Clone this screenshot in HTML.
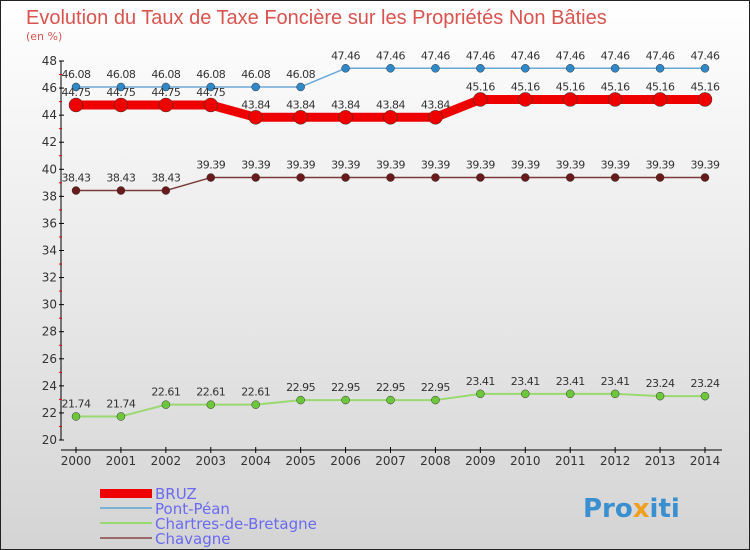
<!DOCTYPE html>
<html><head><meta charset="utf-8"><style>
body{margin:0;}
#wrap{width:750px;height:550px;position:relative;overflow:hidden;background:linear-gradient(#ffffff,#d4d4d4);font-family:"DejaVu Sans","Liberation Sans",sans-serif;}
svg{position:absolute;left:0;top:0;}
</style></head><body>
<div id="wrap">
<svg id="chart" width="750" height="550">
<rect x="0.5" y="0.5" width="749" height="549" fill="none" stroke="#222" stroke-width="1"/>
<text x="26" y="24" font-size="20" fill="#d9534f" font-family="Liberation Sans, sans-serif">Evolution du Taux de Taxe Foncière sur les Propriétés Non Bâties</text>
<text x="26" y="40" font-size="11" fill="#d9534f">(en %)</text>
<g id="axes"></g><g id="series"></g>
<g>
<rect x="100" y="489" width="52" height="9" fill="#e00"/>
<text x="155" y="499" font-size="15" fill="#6a6af0">BRUZ</text>
<line x1="100" y1="508" x2="152" y2="508" stroke="#7ab0d0" stroke-width="2"/>
<text x="155" y="514" font-size="15" fill="#6a6af0">Pont-Péan</text>
<line x1="100" y1="523" x2="152" y2="523" stroke="#9ad870" stroke-width="2"/>
<text x="155" y="529" font-size="15" fill="#6a6af0">Chartres-de-Bretagne</text>
<line x1="100" y1="538" x2="152" y2="538" stroke="#9a6a6a" stroke-width="2"/>
<text x="155" y="544" font-size="15" fill="#6a6af0">Chavagne</text>
</g>
<text x="583" y="517" font-size="26" font-weight="bold" fill="#3a8fd0">Pro<tspan fill="#f0a020">x</tspan>iti</text>
</svg>
</div>
<script>
const years=[2000,2001,2002,2003,2004,2005,2006,2007,2008,2009,2010,2011,2012,2013,2014];
const yTicks=[20,22,24,26,28,30,32,34,36,38,40,42,44,46,48];
const bruz=[44.75,44.75,44.75,44.75,43.84,43.84,43.84,43.84,43.84,45.16,45.16,45.16,45.16,45.16,45.16];
const pontPean=[46.08,46.08,46.08,46.08,46.08,46.08,47.46,47.46,47.46,47.46,47.46,47.46,47.46,47.46,47.46];
const chartres=[21.74,21.74,22.61,22.61,22.61,22.95,22.95,22.95,22.95,23.41,23.41,23.41,23.41,23.24,23.24];
const chavagne=[38.43,38.43,38.43,39.39,39.39,39.39,39.39,39.39,39.39,39.39,39.39,39.39,39.39,39.39,39.39];
const NS='http://www.w3.org/2000/svg';
const X=i=>76+i*(705-76)/(years.length-1);
const Y=v=>440-(v-20)*(440-61)/28;
function mk(tag,attrs,parent){const e=document.createElementNS(NS,tag);for(const k in attrs)e.setAttribute(k,attrs[k]);parent.appendChild(e);return e;}
const axes=document.getElementById('axes'),ser=document.getElementById('series');
let l=mk('line',{x1:61,y1:Y(48),x2:61,y2:Y(20),stroke:'#000'},axes);


l=mk('line',{x1:61,y1:450,x2:722,y2:450,stroke:'#000'},axes);


yTicks.forEach((t,i)=>{
  mk('line',{x1:59,y1:Y(t),x2:64,y2:Y(t),stroke:'#000'},axes);
  if(i<yTicks.length-1)mk('line',{x1:59,y1:Y(t+1),x2:62,y2:Y(t+1),stroke:'#e00'},axes);
  const tx=mk('text',{x:57,y:Y(t)+4,'font-size':12,fill:'#333','text-anchor':'end'},axes);tx.textContent=t;
  
  
});
years.forEach((yr,i)=>{
  mk('line',{x1:X(i),y1:447,x2:X(i),y2:453,stroke:'#000'},axes);
  const tx=mk('text',{x:X(i),y:465,'font-size':12,fill:'#333','text-anchor':'middle'},axes);tx.textContent=yr;
  
  
});
function series(data,name,color,dot,w,r){
  const g=mk('g',{},ser);
  
  
  mk('polyline',{points:data.map((v,i)=>X(i)+','+Y(v)).join(' '),fill:'none',stroke:color,'stroke-width':w,'stroke-linejoin':'round'},g);
  data.forEach((v,i)=>{
    const c=mk('circle',{cx:X(i),cy:Y(v),r:r,fill:dot,stroke:'#333','stroke-width':0.5},g);
    
    
    const t=mk('text',{x:X(i),y:Y(v)-9,'font-size':11,fill:'#333','text-anchor':'middle','letter-spacing':'-0.5'},g);
    t.textContent=v.toFixed(2);
    
    
  });
}
series(chavagne,'chavagne','#7a3a3a','#6a1a1a',1.5,4);
series(chartres,'chartres','#9ad870','#6cc83a',2,4);
series(pontPean,'pont-pean','#6aa8d8','#2f88c8',1.5,4);
series(bruz,'bruz','#e00','#e00',9,7);
</script>
</body></html>
